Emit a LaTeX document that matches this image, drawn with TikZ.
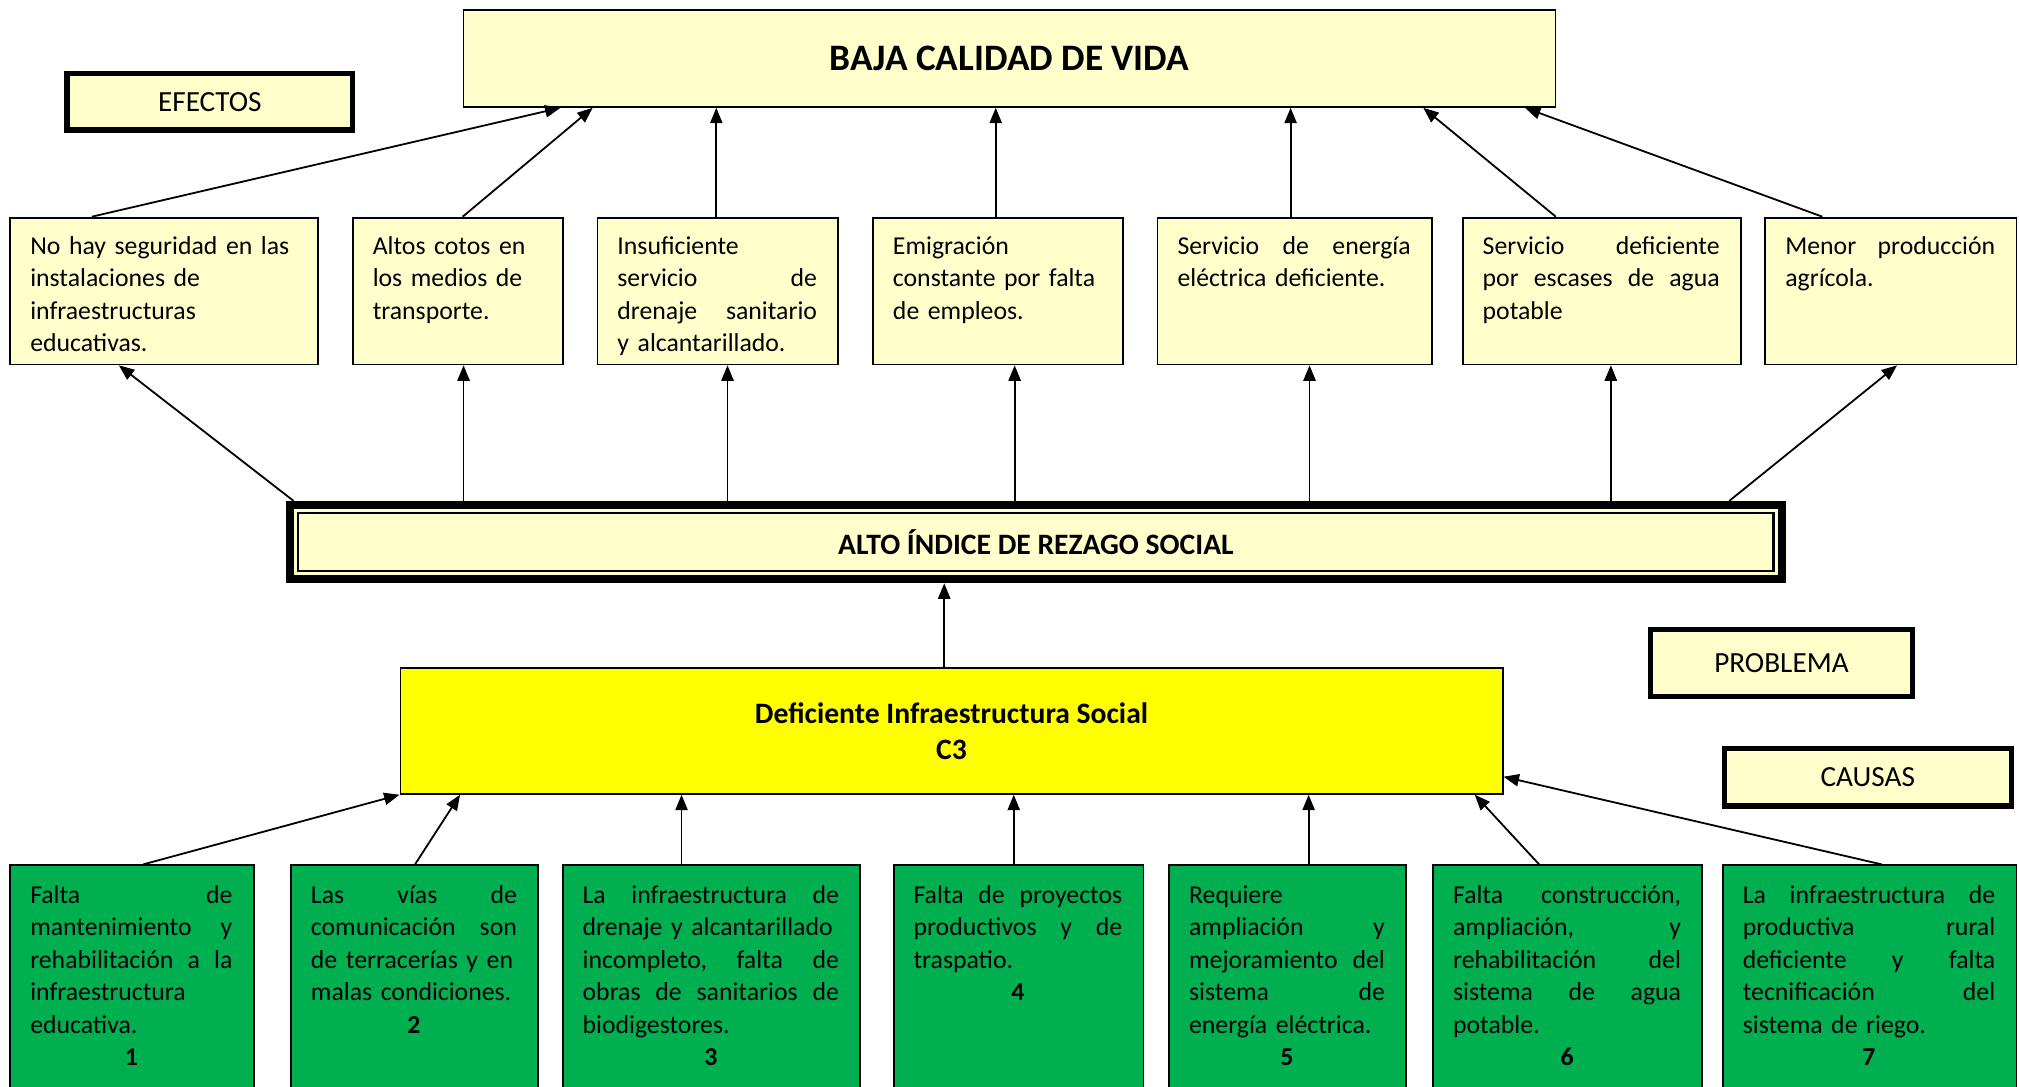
\documentclass[tikz,border=0pt]{standalone}
\usepackage{fontspec}
\setmainfont{Carlito}
\usetikzlibrary{arrows.meta,calc}
\definecolor{lyel}{HTML}{FFFFCC}
\definecolor{cgreen}{HTML}{00B050}
\definecolor{yel}{HTML}{FFFF00}
\newcommand{\bodyfont}{\fontsize{20}{25.3}\selectfont}
\newcommand{\tagfont}{\fontsize{22.7}{26}\selectfont}
\newcommand{\numline}[1]{\makebox[\linewidth]{\textbf{#1}}}
\begin{document}
\begin{tikzpicture}[x=1pt,y=-1pt,
  ebox/.style={draw=black,line width=1.4pt,fill=lyel,inner sep=0,minimum height=114pt},
  cbox/.style={draw=black,line width=1.4pt,fill=cgreen,inner sep=0,minimum height=198pt},
  tagbox/.style={draw=black,line width=4pt,fill=lyel,inner sep=0,font=\tagfont},
  txt/.style={anchor=base west,align=left,inner sep=0,font=\bodyfont},
  arr/.style={line width=1.4pt,-{Triangle[length=12pt,width=9.5pt]}}]
\useasboundingbox (0,0) rectangle (1568,844);
\fill[white] (0,0) rectangle (1568,844);
\clip (0,0) rectangle (1568,844);

% top effect
\node[draw=black,line width=1.4pt,fill=lyel,minimum width=848pt,minimum height=75pt,inner sep=0,
  font=\fontsize{29}{32}\selectfont\bfseries] (top) at (784,45.5) {BAJA CALIDAD DE VIDA};
\node[tagbox,minimum width=222pt,minimum height=44pt] (efe) at (163,79) {EFECTOS};

% effect boxes
\node[ebox,minimum width=239pt] (e1) at (127.5,226) {};
\node[ebox,minimum width=163pt] (e2) at (355.5,226) {};
\node[ebox,minimum width=187pt] (e3) at (557.5,226) {};
\node[ebox,minimum width=194pt] (e4) at (775,226) {};
\node[ebox,minimum width=213pt] (e5) at (1005.5,226) {};
\node[ebox,minimum width=216pt] (e6) at (1244,226) {};
\node[ebox,minimum width=195pt] (e7) at (1468.5,226) {};

\node[txt,text width=207pt] (e1t) at ($(e1.north west)+(16,29)$) {No hay seguridad en las\\instalaciones de\\infraestructuras\\educativas.};
\node[txt,text width=131pt] (e2t) at ($(e2.north west)+(16,29)$) {Altos cotos en\\los medios de\\transporte.};
\node[txt,text width=155pt] (e3t) at ($(e3.north west)+(16,29)$) {Insuficiente\\servicio\hfill de\\drenaje\hfill sanitario\\y alcantarillado.};
\node[txt,text width=162pt] (e4t) at ($(e4.north west)+(16,29)$) {Emigración\\constante por falta\\de empleos.};
\node[txt,text width=181pt] (e5t) at ($(e5.north west)+(16,29)$) {Servicio\hfill de\hfill energía\\eléctrica deficiente.};
\node[txt,text width=184pt] (e6t) at ($(e6.north west)+(16,29)$) {Servicio\hfill deficiente\\por\hfill escases\hfill de\hfill agua\\potable};
\node[txt,text width=163pt] (e7t) at ($(e7.north west)+(16,29)$) {Menor\hfill producción\\agrícola.};

% problem
\node[draw=black,line width=6.5pt,fill=lyel,minimum width=1158.5pt,minimum height=57.5pt,inner sep=0] (alto) at (804.5,421) {};
\draw[line width=2pt] ($(alto.north west)+(9.5,9.5)$) rectangle ($(alto.south east)+(-9.5,-9.5)$);
\node[font=\fontsize{23}{25}\selectfont\bfseries,inner sep=0] (altot) at (alto.center) {ALTO ÍNDICE DE REZAGO SOCIAL};

\node[draw=black,line width=1.4pt,fill=yel,minimum width=856pt,minimum height=98pt,inner sep=0,align=center,
  font=\fontsize{23}{28}\selectfont\bfseries] (def) at (739,567.5) {Deficiente Infraestructura Social\\C3};

\node[tagbox,minimum width=203pt,minimum height=52pt] (prob) at (1383.5,515) {PROBLEMA};
\node[tagbox,minimum width=223pt,minimum height=45pt] (cau) at (1450.5,603.5) {CAUSAS};

% cause boxes
\node[cbox,minimum width=189pt] (c1) at (102.5,771) {};
\node[cbox,minimum width=192pt] (c2) at (322,771) {};
\node[cbox,minimum width=231pt] (c3) at (552.5,771) {};
\node[cbox,minimum width=194pt] (c4) at (791,771) {};
\node[cbox,minimum width=184pt] (c5) at (1000,771) {};
\node[cbox,minimum width=209pt] (c6) at (1217.5,771) {};
\node[cbox,minimum width=228pt] (c7) at (1452,771) {};

\node[txt,text width=157pt] (c1t) at ($(c1.north west)+(16,30)$) {Falta\hfill de\\mantenimiento\hfill y\\rehabilitación\hfill a\hfill la\\infraestructura\\educativa.\\\numline{1}};
\node[txt,text width=160pt] (c2t) at ($(c2.north west)+(16,30)$) {Las\hfill vías\hfill de\\comunicación\hfill son\\\mbox{de terracerías y en}\\\mbox{malas condiciones.}\\\numline{2}};
\node[txt,text width=199pt] (c3t) at ($(c3.north west)+(16,30)$) {La\hfill infraestructura\hfill de\\\mbox{drenaje y alcantarillado}\\incompleto,\hfill falta\hfill de\\obras\hfill de\hfill sanitarios\hfill de\\biodigestores.\\\numline{3}};
\node[txt,text width=162pt] (c4t) at ($(c4.north west)+(16,30)$) {Falta\hfill de\hfill proyectos\\productivos\hfill y\hfill de\\traspatio.\\\numline{4}};
\node[txt,text width=152pt] (c5t) at ($(c5.north west)+(16,30)$) {Requiere\\ampliación\hfill y\\mejoramiento\hfill del\\sistema\hfill de\\\mbox{energía eléctrica.}\\\numline{5}};
\node[txt,text width=177pt] (c6t) at ($(c6.north west)+(16,30)$) {Falta\hfill construcción,\\ampliación,\hfill y\\rehabilitación\hfill del\\sistema\hfill de\hfill agua\\potable.\\\numline{6}};
\node[txt,text width=196pt] (c7t) at ($(c7.north west)+(16,30)$) {La\hfill infraestructura\hfill de\\productiva\hfill rural\\deficiente\hfill y\hfill falta\\tecnificación\hfill del\\sistema de riego.\\\numline{7}};

% anchor points for vertical connectors
\coordinate (a3) at ($(e3.north west)+(93,0)$);
\coordinate (a4) at ($(e4.north west)+(96,0)$);
\coordinate (a5) at ($(e5.north west)+(104,0)$);
\coordinate (b2) at ($(alto.north west)+(138,0)$);
\coordinate (b3) at ($(alto.north west)+(343,0)$);
\coordinate (b4) at ($(alto.north west)+(566,0)$);
\coordinate (b5) at ($(alto.north west)+(795,0)$);
\coordinate (b6) at ($(alto.north west)+(1029,0)$);
\coordinate (cc) at ($(def.north west)+(423,0)$);
\coordinate (d3) at ($(c3.north west)+(93,0)$);
\coordinate (d4) at ($(c4.north west)+(94,0)$);
\coordinate (d5) at ($(c5.north west)+(109,0)$);

% arrows effects -> top
\draw[arr] ($(e1.north west)+(64,0)$) -- ($(top.south west)+(76,0)$);
\draw[arr] ($(e2.north west)+(86,0)$) -- ($(top.south west)+(101,0)$);
\draw[arr] (a3) -- (a3 |- top.south);
\draw[arr] (a4) -- (a4 |- top.south);
\draw[arr] (a5) -- (a5 |- top.south);
\draw[arr] ($(e6.north west)+(73,0)$) -- ($(top.south west)+(746,0)$);
\draw[arr] ($(e7.north west)+(45,0)$) -- ($(top.south west)+(825,0)$);

% arrows problem -> effects
\draw[arr] ($(alto.north west)+(6,0)$) -- ($(e1.south west)+(85,0)$);
\draw[arr] (b2) -- (b2 |- e2.south);
\draw[arr] (b3) -- (b3 |- e3.south);
\draw[arr] (b4) -- (b4 |- e4.south);
\draw[arr] (b5) -- (b5 |- e5.south);
\draw[arr] (b6) -- (b6 |- e6.south);
\draw[arr] ($(alto.north west)+(1121,0)$) -- ($(e7.south west)+(103,0)$);

% cause -> problem
\draw[arr] (cc) -- (cc |- alto.south);

% causes -> deficiente
\draw[arr] ($(c1.north west)+(104,0)$) -- (def.south west);
\draw[arr] ($(c2.north west)+(97,0)$) -- ($(def.south west)+(47,0)$);
\draw[arr] (d3) -- (d3 |- def.south);
\draw[arr] (d4) -- (d4 |- def.south);
\draw[arr] (d5) -- (d5 |- def.south);
\draw[arr] ($(c6.north west)+(83,0)$) -- ($(def.south west)+(835,0)$);
\draw[arr] ($(c7.north west)+(124,0)$) -- ($(def.south east)+(0,-14)$);
\end{tikzpicture}
\end{document}
